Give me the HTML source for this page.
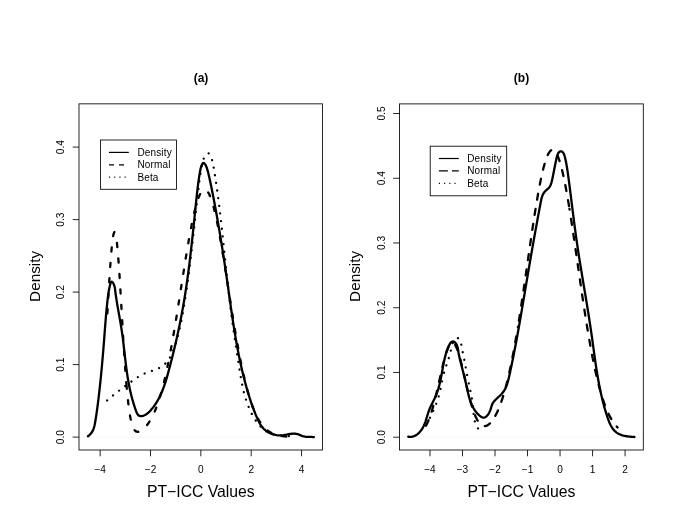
<!DOCTYPE html>
<html><head><meta charset="utf-8"><style>
html,body{margin:0;padding:0;background:#fff;}
svg{display:block;font-family:"Liberation Sans",sans-serif;will-change:transform;}
text{fill:#000;}
</style></head><body>
<svg width="685" height="529" viewBox="0 0 685 529">
<rect width="685" height="529" fill="#fff"/>
<line x1="79" y1="437.1" x2="322.5" y2="437.1" stroke="#f7f7f7" stroke-width="1"/>
<rect x="79" y="103.85" width="243.5" height="346.15" fill="none" stroke="#000" stroke-width="0.85"/>
<line x1="100.15" y1="450" x2="100.15" y2="456.3" stroke="#000" stroke-width="0.85"/>
<text x="100.15" y="472.5" font-size="10.1" text-anchor="middle" font-weight="normal">&#8722;4</text>
<line x1="150.5" y1="450" x2="150.5" y2="456.3" stroke="#000" stroke-width="0.85"/>
<text x="150.5" y="472.5" font-size="10.1" text-anchor="middle" font-weight="normal">&#8722;2</text>
<line x1="200.85" y1="450" x2="200.85" y2="456.3" stroke="#000" stroke-width="0.85"/>
<text x="200.85" y="472.5" font-size="10.1" text-anchor="middle" font-weight="normal">0</text>
<line x1="251.2" y1="450" x2="251.2" y2="456.3" stroke="#000" stroke-width="0.85"/>
<text x="251.2" y="472.5" font-size="10.1" text-anchor="middle" font-weight="normal">2</text>
<line x1="301.55" y1="450" x2="301.55" y2="456.3" stroke="#000" stroke-width="0.85"/>
<text x="301.55" y="472.5" font-size="10.1" text-anchor="middle" font-weight="normal">4</text>
<line x1="79" y1="437.1" x2="72.7" y2="437.1" stroke="#000" stroke-width="0.85"/>
<text transform="translate(64.4 437.1) rotate(-90) scale(1 0.98)" font-size="10.2" text-anchor="middle" font-weight="normal">0.0</text>
<line x1="79" y1="364.6" x2="72.7" y2="364.6" stroke="#000" stroke-width="0.85"/>
<text transform="translate(64.4 364.6) rotate(-90) scale(1 0.98)" font-size="10.2" text-anchor="middle" font-weight="normal">0.1</text>
<line x1="79" y1="292.1" x2="72.7" y2="292.1" stroke="#000" stroke-width="0.85"/>
<text transform="translate(64.4 292.1) rotate(-90) scale(1 0.98)" font-size="10.2" text-anchor="middle" font-weight="normal">0.2</text>
<line x1="79" y1="219.6" x2="72.7" y2="219.6" stroke="#000" stroke-width="0.85"/>
<text transform="translate(64.4 219.6) rotate(-90) scale(1 0.98)" font-size="10.2" text-anchor="middle" font-weight="normal">0.3</text>
<line x1="79" y1="147.1" x2="72.7" y2="147.1" stroke="#000" stroke-width="0.85"/>
<text transform="translate(64.4 147.1) rotate(-90) scale(1 0.98)" font-size="10.2" text-anchor="middle" font-weight="normal">0.4</text>
<text transform="translate(39.5 276.4) rotate(-90) scale(1 0.97)" font-size="15.3" text-anchor="middle" font-weight="normal">Density</text>
<text x="200.85" y="497.3" font-size="15.75" text-anchor="middle" font-weight="normal">PT&#8722;ICC Values</text>
<text x="201" y="82.4" font-size="12" text-anchor="middle" font-weight="bold">(a)</text>
<rect x="100.5" y="140" width="76" height="49.3" fill="none" stroke="#000" stroke-width="0.85"/>
<line x1="109.0" y1="152.4" x2="128.8" y2="152.4" stroke="#000" stroke-width="1.2"/>
<text letter-spacing="0.15" x="137.4" y="155.9" font-size="10" text-anchor="start" font-weight="normal">Density</text>
<line x1="109.0" y1="164.8" x2="128.8" y2="164.8" stroke="#000" stroke-width="1.2" stroke-dasharray="5 5"/>
<text letter-spacing="0.15" x="137.4" y="168.3" font-size="10" text-anchor="start" font-weight="normal">Normal</text>
<line x1="109.0" y1="177.2" x2="128.8" y2="177.2" stroke="#000" stroke-width="1.2" stroke-dasharray="1.1 4.1"/>
<text letter-spacing="0.15" x="137.4" y="180.7" font-size="10" text-anchor="start" font-weight="normal">Beta</text>
<line x1="399.5" y1="437.2" x2="643.3" y2="437.2" stroke="#f7f7f7" stroke-width="1"/>
<rect x="399.5" y="103.9" width="243.8" height="346.1" fill="none" stroke="#000" stroke-width="0.85"/>
<line x1="429.97" y1="450" x2="429.97" y2="456.3" stroke="#000" stroke-width="0.85"/>
<text x="429.97" y="472.5" font-size="10.1" text-anchor="middle" font-weight="normal">&#8722;4</text>
<line x1="462.49" y1="450" x2="462.49" y2="456.3" stroke="#000" stroke-width="0.85"/>
<text x="462.49" y="472.5" font-size="10.1" text-anchor="middle" font-weight="normal">&#8722;3</text>
<line x1="495.01" y1="450" x2="495.01" y2="456.3" stroke="#000" stroke-width="0.85"/>
<text x="495.01" y="472.5" font-size="10.1" text-anchor="middle" font-weight="normal">&#8722;2</text>
<line x1="527.53" y1="450" x2="527.53" y2="456.3" stroke="#000" stroke-width="0.85"/>
<text x="527.53" y="472.5" font-size="10.1" text-anchor="middle" font-weight="normal">&#8722;1</text>
<line x1="560.05" y1="450" x2="560.05" y2="456.3" stroke="#000" stroke-width="0.85"/>
<text x="560.05" y="472.5" font-size="10.1" text-anchor="middle" font-weight="normal">0</text>
<line x1="592.57" y1="450" x2="592.57" y2="456.3" stroke="#000" stroke-width="0.85"/>
<text x="592.57" y="472.5" font-size="10.1" text-anchor="middle" font-weight="normal">1</text>
<line x1="625.09" y1="450" x2="625.09" y2="456.3" stroke="#000" stroke-width="0.85"/>
<text x="625.09" y="472.5" font-size="10.1" text-anchor="middle" font-weight="normal">2</text>
<line x1="399.5" y1="437.2" x2="393.2" y2="437.2" stroke="#000" stroke-width="0.85"/>
<text transform="translate(385.1 437.2) rotate(-90) scale(1 0.98)" font-size="10.2" text-anchor="middle" font-weight="normal">0.0</text>
<line x1="399.5" y1="372.46" x2="393.2" y2="372.46" stroke="#000" stroke-width="0.85"/>
<text transform="translate(385.1 372.46) rotate(-90) scale(1 0.98)" font-size="10.2" text-anchor="middle" font-weight="normal">0.1</text>
<line x1="399.5" y1="307.72" x2="393.2" y2="307.72" stroke="#000" stroke-width="0.85"/>
<text transform="translate(385.1 307.72) rotate(-90) scale(1 0.98)" font-size="10.2" text-anchor="middle" font-weight="normal">0.2</text>
<line x1="399.5" y1="242.98" x2="393.2" y2="242.98" stroke="#000" stroke-width="0.85"/>
<text transform="translate(385.1 242.98) rotate(-90) scale(1 0.98)" font-size="10.2" text-anchor="middle" font-weight="normal">0.3</text>
<line x1="399.5" y1="178.24" x2="393.2" y2="178.24" stroke="#000" stroke-width="0.85"/>
<text transform="translate(385.1 178.24) rotate(-90) scale(1 0.98)" font-size="10.2" text-anchor="middle" font-weight="normal">0.4</text>
<line x1="399.5" y1="113.5" x2="393.2" y2="113.5" stroke="#000" stroke-width="0.85"/>
<text transform="translate(385.1 113.5) rotate(-90) scale(1 0.98)" font-size="10.2" text-anchor="middle" font-weight="normal">0.5</text>
<text transform="translate(360.4 276.4) rotate(-90) scale(1 0.97)" font-size="15.3" text-anchor="middle" font-weight="normal">Density</text>
<text x="521.4" y="497.3" font-size="15.75" text-anchor="middle" font-weight="normal">PT&#8722;ICC Values</text>
<text x="521.5" y="82.4" font-size="12" text-anchor="middle" font-weight="bold">(b)</text>
<rect x="430.2" y="146.2" width="76.5" height="49.6" fill="none" stroke="#000" stroke-width="0.85"/>
<line x1="438.9" y1="158.5" x2="458.8" y2="158.5" stroke="#000" stroke-width="1.2"/>
<text letter-spacing="0.15" x="467.2" y="162" font-size="10" text-anchor="start" font-weight="normal">Density</text>
<line x1="438.9" y1="170.9" x2="458.8" y2="170.9" stroke="#000" stroke-width="1.2" stroke-dasharray="9 4"/>
<text letter-spacing="0.15" x="467.2" y="174.4" font-size="10" text-anchor="start" font-weight="normal">Normal</text>
<line x1="438.9" y1="183.3" x2="458.8" y2="183.3" stroke="#000" stroke-width="1.2" stroke-dasharray="1.1 4.1"/>
<text letter-spacing="0.15" x="467.2" y="186.8" font-size="10" text-anchor="start" font-weight="normal">Beta</text>
<path d="M107.1 317.95 L107.56 310 L108.02 302.07 L108.48 294.24 L108.93 286.56 L109.39 279.13 L109.85 272 L110.31 265.26 L110.77 258.97 L111.23 253.21 L111.68 248.04 L112.14 243.51 L112.6 239.69 L113.06 236.61 L113.52 234.32 L113.98 232.84 L114.43 232.19 L114.89 232.37 L115.35 233.39 L115.81 235.23 L116.27 237.87 L116.73 241.27 L117.18 245.41 L117.64 250.22 L118.1 255.65 L118.56 261.64 L119.02 268.12 L119.48 275.02 L119.94 282.27 L120.39 289.79 L120.85 297.52 L121.31 305.37 L121.77 313.28 L122.23 321.18 L122.69 329.01 L123.14 336.71 L123.6 344.23 L124.06 351.53 L124.52 358.55 L124.98 365.28 L125.44 371.68 L125.89 377.73 L126.35 383.41" fill="none" stroke="#000" stroke-width="2.3" stroke-linecap="round" stroke-dasharray="4.2 11.3" stroke-dashoffset="10.94"/>
<path d="M126.35 383.41 L126.81 388.73 L127.27 393.66 L127.73 398.22 L128.19 402.4 L128.64 406.22 L129.1 409.69 L129.56 412.82 L130.02 415.63 L130.48 418.14 L130.94 420.36 L131.39 422.31 L131.85 424.02 L132.31 425.5 L132.77 426.78 L133.23 427.87 L133.69 428.79 L134.15 429.55 L134.6 430.18 L135.06 430.68 L135.52 431.08 L135.98 431.37 L136.44 431.59 L136.9 431.72 L137.35 431.79 L137.81 431.8 L138.27 431.76 L138.73 431.66 L139.19 431.53 L139.65 431.36 L140.1 431.16 L140.56 430.92 L141.02 430.66 L141.48 430.37 L141.94 430.05 L142.4 429.71 L142.85 429.35 L143.31 428.96 L143.77 428.56 L144.23 428.13 L144.69 427.68 L145.15 427.2 L145.61 426.71 L146.06 426.19 L146.52 425.65 L146.98 425.09 L147.44 424.5 L147.9 423.89 L148.36 423.25 L148.81 422.59 L149.27 421.9 L149.73 421.18 L150.19 420.44 L150.65 419.67 L151.11 418.87 L151.56 418.04 L152.02 417.18 L152.48 416.29 L152.94 415.37 L153.4 414.42 L153.86 413.43 L154.31 412.41 L154.77 411.36 L155.23 410.27 L155.69 409.14 L156.15 407.98 L156.61 406.79 L157.07 405.55 L157.52 404.28 L157.98 402.97 L158.44 401.62 L158.9 400.24 L159.36 398.81 L159.82 397.34 L160.27 395.84 L160.73 394.29 L161.19 392.7 L161.65 391.07 L162.11 389.4 L162.57 387.68 L163.02 385.93 L163.48 384.13 L163.94 382.29 L164.4 380.41 L164.86 378.48 L165.32 376.51 L165.77 374.5 L166.23 372.45 L166.69 370.36 L167.15 368.23 L167.61 366.05 L168.07 363.84 L168.53 361.58 L168.98 359.29" fill="none" stroke="#000" stroke-width="2.3" stroke-linecap="round" stroke-dasharray="4.2 11.3" stroke-dashoffset="14.19"/>
<path d="M168.98 359.29 L169.44 356.95 L169.9 354.58 L170.36 352.17 L170.82 349.72 L171.28 347.23 L171.73 344.72 L172.19 342.16 L172.65 339.57 L173.11 336.96 L173.57 334.31 L174.03 331.63 L174.48 328.92 L174.94 326.18 L175.4 323.42 L175.86 320.63 L176.32 317.83 L176.78 315 L177.23 312.15 L177.69 309.28 L178.15 306.4 L178.61 303.51 L179.07 300.6 L179.53 297.68 L179.98 294.76 L180.44 291.83 L180.9 288.89 L181.36 285.96 L181.82 283.02 L182.28 280.09 L182.74 277.16 L183.19 274.24 L183.65 271.33 L184.11 268.44 L184.57 265.56 L185.03 262.69 L185.49 259.85 L185.94 257.03 L186.4 254.23 L186.86 251.46 L187.32 248.72 L187.78 246.02 L188.24 243.35 L188.69 240.72 L189.15 238.12 L189.61 235.57 L190.07 233.07 L190.53 230.61 L190.99 228.21 L191.44 225.85 L191.9 223.56 L192.36 221.32 L192.82 219.14 L193.28 217.02 L193.74 214.96 L194.2 212.98 L194.65 211.06 L195.11 209.21 L195.57 207.44 L196.03 205.74 L196.49 204.11 L196.95 202.57 L197.4 201.1 L197.86 199.72 L198.32 198.42 L198.78 197.2 L199.24 196.07 L199.7 195.03 L200.15 194.08 L200.61 193.21 L201.07 192.44 L201.53 191.76 L201.99 191.16 L202.45 190.67 L202.9 190.26 L203.36 189.95 L203.82 189.74 L204.28 189.62 L204.74 189.59 L205.2 189.66 L205.66 189.82 L206.11 190.08 L206.57 190.43 L207.03 190.87 L207.49 191.41 L207.95 192.04 L208.41 192.76 L208.86 193.58 L209.32 194.48 L209.78 195.47 L210.24 196.55 L210.7 197.72 L211.16 198.97 L211.61 200.31 L212.07 201.73 L212.53 203.23 L212.99 204.81 L213.45 206.47 L213.91 208.2 L214.36 210.01 L214.82 211.88 L215.28 213.83 L215.74 215.85 L216.2 217.93 L216.66 220.08 L217.12 222.28 L217.57 224.55 L218.03 226.87 L218.49 229.25 L218.95 231.68 L219.41 234.15 L219.87 236.68 L220.32 239.25 L220.78 241.86 L221.24 244.5 L221.7 247.19 L222.16 249.91 L222.62 252.66 L223.07 255.44 L223.53 258.25 L223.99 261.08 L224.45 263.94 L224.91 266.81 L225.37 269.7 L225.82 272.6 L226.28 275.51 L226.74 278.43 L227.2 281.36 L227.66 284.3 L228.12 287.23 L228.57 290.17 L229.03 293.1 L229.49 296.03 L229.95 298.95 L230.41 301.86 L230.87 304.77 L231.33 307.66 L231.78 310.53 L232.24 313.39 L232.7 316.23 L233.16 319.05 L233.62 321.85 L234.08 324.62 L234.53 327.37 L234.99 330.1 L235.45 332.79 L235.91 335.46 L236.37 338.1 L236.83 340.7 L237.28 343.28 L237.74 345.81 L238.2 348.32 L238.66 350.79 L239.12 353.22 L239.58 355.61 L240.03 357.97 L240.49 360.29 L240.95 362.57 L241.41 364.81 L241.87 367 L242.33 369.16 L242.79 371.28 L243.24 373.35 L243.7 375.38 L244.16 377.37 L244.62 379.32 L245.08 381.23 L245.54 383.09 L245.99 384.92 L246.45 386.7 L246.91 388.43 L247.37 390.13 L247.83 391.78 L248.29 393.4 L248.74 394.97 L249.2 396.5 L249.66 397.99 L250.12 399.44 L250.58 400.85 L251.04 402.22 L251.49 403.55 L251.95 404.84 L252.41 406.09 L252.87 407.31 L253.33 408.49 L253.79 409.64 L254.25 410.75 L254.7 411.82 L255.16 412.86 L255.62 413.86 L256.08 414.84 L256.54 415.77 L257 416.68 L257.45 417.56 L257.91 418.41 L258.37 419.22 L258.83 420.01 L259.29 420.77 L259.75 421.5 L260.2 422.2 L260.66 422.88 L261.12 423.53 L261.58 424.16 L262.04 424.76 L262.5 425.34 L262.95 425.9 L263.41 426.43 L263.87 426.94 L264.33 427.44 L264.79 427.91 L265.25 428.36 L265.71 428.79 L266.16 429.21 L266.62 429.6 L267.08 429.98 L267.54 430.34 L268 430.69 L268.46 431.02 L268.91 431.34 L269.37 431.64 L269.83 431.93 L270.29 432.2 L270.75 432.47 L271.21 432.71 L271.66 432.95 L272.12 433.18 L272.58 433.39 L273.04 433.6 L273.5 433.79 L273.96 433.98 L274.41 434.16 L274.87 434.32 L275.33 434.48 L275.79 434.63 L276.25 434.77 L276.71 434.91 L277.16 435.04 L277.62 435.16 L278.08 435.27 L278.54 435.38 L279 435.49 L279.46 435.58 L279.92 435.68 L280.37 435.76 L280.83 435.84 L281.29 435.92 L281.75 436 L282.21 436.06 L282.67 436.13 L283.12 436.19 L283.58 436.25 L284.04 436.3 L284.5 436.35 L284.96 436.4 L285.42 436.45 L285.87 436.49 L286.33 436.53 L286.79 436.57 L287.25 436.6 L287.71 436.64 L288.17 436.67 L288.62 436.7 L289.08 436.72 L289.54 436.75 L290 436.77" fill="none" stroke="#000" stroke-width="2.3" stroke-linecap="round" stroke-dasharray="4.2 11.3" stroke-dashoffset="6.36"/>
<path d="M107.16 400.43 L108.05 399.66 L108.94 398.88 L109.85 398.11 L110.76 397.34 L111.68 396.57 L112.61 395.81 L113.54 395.05 L114.48 394.29 L115.42 393.53 L116.37 392.78 L117.33 392.03 L118.28 391.28 L119.25 390.53 L120.21 389.79 L121.18 389.05 L122.15 388.32 L123.12 387.59 L124.09 386.86 L125.06 386.14 L126.04 385.42 L127.01 384.7 L127.98 383.99 L128.95 383.29 L129.92 382.59 L130.89 381.89 L131.85 381.2 L132.82 380.51 L133.78 379.83 L134.74 379.16 L135.71 378.49 L136.68 377.85 L137.67 377.21 L138.67 376.59 L139.68 375.99 L140.72 375.41 L141.77 374.85 L142.85 374.32 L143.95 373.81 L145.08 373.33 L146.24 372.87 L147.42 372.44 L148.62 372.02 L149.83 371.62 L151.04 371.21 L152.26 370.81 L153.46 370.4 L154.66 369.97 L155.84 369.53 L157 369.06 L158.12 368.57 L159.21 368.03 L160.27 367.46 L161.28 366.85 L162.24 366.19 L163.17 365.49 L164.05 364.75 L164.9 363.97 L165.7 363.15 L166.48 362.31 L167.21 361.42 L167.92 360.51 L168.59 359.57 L169.24 358.61 L169.85 357.61 L170.44 356.59 L171 355.56 L171.53 354.5 L172.04 353.42 L172.53 352.32 L173 351.21 L173.45 350.09 L173.89 348.95 L174.3 347.81 L174.7 346.65 L175.09 345.49 L175.47 344.33 L175.83 343.16 L176.18 341.99 L176.53 340.82 L176.87 339.65 L177.2 338.48 L177.52 337.31 L177.83 336.13 L178.14 334.96 L178.44 333.79 L178.73 332.62 L179.01 331.45 L179.29 330.27 L179.57 329.1 L179.83 327.93 L180.09 326.76 L180.35 325.58 L180.6 324.41 L180.85 323.23 L181.09 322.06 L181.32 320.88 L181.55 319.7 L181.78 318.53 L182 317.35 L182.22 316.17 L182.44 314.99 L182.65 313.82 L182.86 312.64 L183.07 311.46 L183.28 310.27 L183.48 309.09 L183.68 307.91 L183.88 306.73 L184.08 305.54 L184.27 304.36 L184.46 303.18 L184.66 301.99 L184.85 300.8 L185.03 299.62 L185.22 298.43 L185.4 297.24 L185.59 296.05 L185.77 294.86 L185.95 293.67" fill="none" stroke="#000" stroke-width="2.3" stroke-linecap="round" stroke-dasharray="0.01 7.7" stroke-dashoffset="0"/>
<path d="M185.95 293.67 L186.13 292.48 L186.31 291.29 L186.48 290.1 L186.66 288.91 L186.83 287.72 L187 286.53 L187.17 285.33 L187.34 284.14 L187.5 282.95 L187.67 281.75 L187.83 280.56 L188 279.36 L188.16 278.17 L188.32 276.97 L188.48 275.77 L188.64 274.58 L188.8 273.38 L188.95 272.19 L189.11 270.99 L189.26 269.79 L189.41 268.59 L189.56 267.4 L189.72 266.2 L189.86 265 L190.01 263.8 L190.16 262.6 L190.31 261.4 L190.45 260.2 L190.6 259.01 L190.74 257.81 L190.89 256.61 L191.03 255.41 L191.17 254.21 L191.31 253.01 L191.45 251.81 L191.59 250.61 L191.73 249.41 L191.87 248.21 L192.01 247.01 L192.15 245.81 L192.28 244.61 L192.42 243.42 L192.55 242.22 L192.69 241.02 L192.82 239.82 L192.96 238.62 L193.09 237.42 L193.23 236.22 L193.36 235.02 L193.49 233.83 L193.62 232.63 L193.75 231.43 L193.89 230.23 L194.02 229.04 L194.15 227.84 L194.28 226.64 L194.41 225.45 L194.54 224.25 L194.67 223.05 L194.8 221.86 L194.93 220.66 L195.06 219.47 L195.19 218.27 L195.32 217.08 L195.45 215.89 L195.58 214.69 L195.71 213.5 L195.84 212.31 L195.97 211.12 L196.11 209.92 L196.24 208.73 L196.37 207.54 L196.5 206.35 L196.63 205.16 L196.76 203.98 L196.89 202.79 L197.03 201.6 L197.16 200.41 L197.29 199.23 L197.42 198.04 L197.56 196.85 L197.69 195.67 L197.83 194.49 L197.96 193.3 L198.1 192.12 L198.23 190.94 L198.37 189.76 L198.51 188.58 L198.64 187.4 L198.78 186.22 L198.92 185.04 L199.06 183.86 L199.21 182.68 L199.35 181.5 L199.5 180.32 L199.65 179.13 L199.81 177.94 L199.98 176.75 L200.15 175.54 L200.33 174.34 L200.52 173.12 L200.71 171.9 L200.92 170.67 L201.14 169.43 L201.36 168.17 L201.6 166.91 L201.86 165.63 L202.13 164.35 L202.41 163.06 L202.72 161.78 L203.07 160.53 L203.46 159.32 L203.89 158.17 L204.38 157.1 L204.93 156.11 L205.55 155.23 L206.24 154.46 L207.02 153.83 L207.86 153.41 L208.67 153.37 L209.38 153.86 L209.99 154.72 L210.53 155.77 L211.01 156.85 L211.43 157.95 L211.82 159.08 L212.16 160.22 L212.46 161.38 L212.74 162.55 L212.99 163.72 L213.22 164.91 L213.43 166.1 L213.64 167.3 L213.84 168.49 L214.03 169.69 L214.23 170.89 L214.43 172.08 L214.62 173.28 L214.81 174.48 L215 175.67 L215.18 176.87 L215.37 178.07 L215.55 179.26 L215.73 180.46 L215.91 181.66 L216.09 182.85 L216.27 184.05 L216.44 185.24 L216.61 186.44 L216.78 187.64 L216.95 188.83 L217.12 190.03 L217.29 191.23 L217.45 192.42 L217.62 193.62 L217.78 194.82 L217.94 196.01 L218.1 197.21 L218.25 198.41 L218.41 199.6 L218.56 200.8 L218.72 202 L218.87 203.19 L219.02 204.39 L219.17 205.59 L219.32 206.78 L219.47 207.98 L219.61 209.17 L219.76 210.37 L219.9 211.57 L220.05 212.76 L220.19 213.96 L220.33 215.16 L220.47 216.35 L220.61 217.55 L220.75 218.75 L220.89 219.94 L221.02 221.14 L221.16 222.33 L221.29 223.53 L221.43 224.73 L221.56 225.92 L221.69 227.12 L221.83 228.32 L221.96 229.51 L222.09 230.71 L222.22 231.91 L222.35 233.1 L222.48 234.3 L222.61 235.49 L222.73 236.69 L222.86 237.89 L222.99 239.08 L223.12 240.28 L223.24 241.47 L223.37 242.67 L223.49 243.87 L223.62 245.06 L223.74 246.26 L223.87 247.45 L223.99 248.65 L224.12 249.85 L224.24 251.04 L224.37 252.24 L224.49 253.43 L224.62 254.63 L224.74 255.83 L224.87 257.02 L224.99 258.22 L225.11 259.41 L225.24 260.61 L225.36 261.8 L225.49 263 L225.61 264.2 L225.74 265.39 L225.86 266.59 L225.99 267.78 L226.11 268.98 L226.24 270.17 L226.37 271.37 L226.49 272.57 L226.62 273.76 L226.75 274.96 L226.87 276.15 L227 277.35 L227.13 278.54 L227.26 279.74 L227.39 280.93 L227.52 282.13 L227.65 283.32 L227.78 284.52 L227.92 285.71 L228.05 286.91" fill="none" stroke="#000" stroke-width="2.3" stroke-linecap="round" stroke-dasharray="0.01 7.7" stroke-dashoffset="2.53"/>
<path d="M228.05 286.91 L228.18 288.1 L228.32 289.3 L228.45 290.49 L228.59 291.69 L228.73 292.88 L228.87 294.08 L229 295.27 L229.14 296.47 L229.28 297.66 L229.43 298.86 L229.57 300.05 L229.71 301.25 L229.86 302.44 L230 303.63 L230.15 304.83 L230.3 306.02 L230.45 307.22 L230.6 308.41 L230.75 309.61 L230.9 310.8 L231.06 311.99 L231.21 313.19 L231.37 314.38 L231.53 315.58 L231.69 316.77 L231.85 317.96 L232.01 319.16 L232.17 320.35 L232.33 321.55 L232.5 322.74 L232.66 323.93 L232.83 325.13 L233 326.32 L233.16 327.51 L233.33 328.71 L233.5 329.9 L233.67 331.09 L233.85 332.29 L234.02 333.48 L234.19 334.67 L234.37 335.87 L234.54 337.06 L234.72 338.25 L234.89 339.45 L235.07 340.64 L235.25 341.83 L235.43 343.02 L235.6 344.22 L235.78 345.41 L235.96 346.6 L236.14 347.8 L236.33 348.99 L236.51 350.18 L236.69 351.37 L236.87 352.56 L237.05 353.76 L237.24 354.95 L237.42 356.14 L237.6 357.33 L237.79 358.53 L237.97 359.72 L238.16 360.91 L238.34 362.1 L238.53 363.29 L238.71 364.48 L238.9 365.68 L239.09 366.87 L239.27 368.06 L239.46 369.25 L239.65 370.44 L239.84 371.63 L240.03 372.82 L240.23 374.01 L240.42 375.2 L240.63 376.38 L240.83 377.57 L241.04 378.75 L241.26 379.94 L241.47 381.12 L241.7 382.3 L241.93 383.48 L242.17 384.65 L242.41 385.83 L242.66 387 L242.92 388.17 L243.19 389.34 L243.47 390.5 L243.75 391.67 L244.05 392.83 L244.35 393.98 L244.67 395.14 L244.99 396.29 L245.33 397.44 L245.68 398.59 L246.04 399.73 L246.41 400.87 L246.8 402 L247.19 403.13 L247.61 404.26 L248.03 405.38 L248.47 406.5 L248.93 407.62 L249.4 408.73 L249.89 409.83 L250.39 410.93 L250.91 412.03 L251.45 413.12 L252.01 414.21 L252.58 415.29 L253.17 416.36 L253.78 417.42 L254.41 418.47 L255.07 419.51 L255.74 420.52 L256.43 421.53 L257.15 422.51 L257.88 423.46 L258.64 424.4 L259.43 425.31 L260.23 426.19 L261.06 427.04 L261.92 427.86 L262.8 428.65 L263.71 429.4 L264.65 430.12 L265.61 430.79 L266.6 431.43 L267.61 432.02 L268.66 432.57 L269.73 433.07 L270.84 433.52 L271.97 433.93 L273.13 434.29 L274.32 434.6 L275.52 434.87 L276.73 435.11 L277.96 435.31 L279.19 435.48 L280.43 435.63 L281.66 435.75 L282.89 435.85 L284.11 435.93 L285.32 436 L286.51 436.06 L287.68 436.11 L288.83 436.16 L289.95 436.2" fill="none" stroke="#000" stroke-width="2.3" stroke-linecap="round" stroke-dasharray="0.01 7.7" stroke-dashoffset="1.41"/>
<path d="M87.99 436.23 L88.95 435.5 L89.82 434.72 L90.6 433.9 L91.29 433.03 L91.91 432.13 L92.46 431.19 L92.95 430.21 L93.38 429.21 L93.75 428.18 L94.08 427.12 L94.38 426.05 L94.63 424.97 L94.86 423.87 L95.07 422.76 L95.27 421.64 L95.45 420.53 L95.63 419.41 L95.81 418.3 L95.98 417.19 L96.15 416.07 L96.32 414.96 L96.48 413.85 L96.64 412.74 L96.8 411.64 L96.96 410.53 L97.11 409.42 L97.26 408.31 L97.41 407.21 L97.56 406.1 L97.7 405 L97.84 403.89 L97.98 402.79 L98.12 401.68 L98.26 400.58 L98.39 399.47 L98.53 398.37 L98.66 397.26 L98.79 396.15 L98.92 395.05 L99.05 393.94 L99.17 392.83 L99.3 391.73 L99.43 390.62 L99.55 389.51 L99.67 388.4 L99.79 387.29 L99.91 386.18 L100.03 385.07 L100.15 383.96 L100.27 382.85 L100.38 381.74 L100.5 380.63 L100.61 379.52 L100.72 378.4 L100.84 377.29 L100.95 376.18 L101.06 375.07 L101.17 373.95 L101.27 372.84 L101.38 371.73 L101.49 370.61 L101.59 369.5 L101.7 368.38 L101.8 367.27 L101.9 366.16 L102 365.04 L102.11 363.93 L102.21 362.81 L102.3 361.7 L102.4 360.58 L102.5 359.47 L102.6 358.36 L102.69 357.24 L102.79 356.13 L102.88 355.01 L102.98 353.9 L103.07 352.78 L103.16 351.67 L103.26 350.55 L103.35 349.44 L103.44 348.33 L103.53 347.21 L103.62 346.1 L103.7 344.98 L103.79 343.87 L103.88 342.76 L103.97 341.64 L104.05 340.53 L104.14 339.42 L104.22 338.31 L104.31 337.19 L104.39 336.08 L104.48 334.97 L104.56 333.86 L104.65 332.75 L104.73 331.64 L104.81 330.52 L104.9 329.41 L104.98 328.3 L105.07 327.19 L105.16 326.08 L105.24 324.97 L105.33 323.86 L105.42 322.75 L105.51 321.64 L105.6 320.52 L105.69 319.41 L105.78 318.3 L105.87 317.19 L105.97 316.08 L106.07 314.96 L106.17 313.85 L106.27 312.74 L106.37 311.63 L106.47 310.51 L106.58 309.4 L106.68 308.29 L106.79 307.17 L106.91 306.06 L107.02 304.94 L107.14 303.83 L107.26 302.71 L107.38 301.6 L107.5 300.48 L107.63 299.36 L107.76 298.25 L107.9 297.13 L108.04 296.01 L108.19 294.9 L108.35 293.79 L108.51 292.68 L108.69 291.57 L108.88 290.46 L109.09 289.36 L109.3 288.27 L109.54 287.17 L109.79 286.09 L110.05 285.01 L110.34 283.93 L110.65 282.87 L111.04 281.99 L111.66 281.71 L112.42 282.11 L113.12 282.98 L113.71 284.15 L114.19 285.41 L114.55 286.63 L114.8 287.78 L114.99 288.9 L115.13 289.99 L115.26 291.07 L115.4 292.16 L115.54 293.24 L115.69 294.33 L115.84 295.41 L116 296.5 L116.16 297.59 L116.33 298.68 L116.5 299.77 L116.67 300.86 L116.85 301.95 L117.03 303.05 L117.21 304.14 L117.4 305.24 L117.59 306.33 L117.78 307.43 L117.97 308.53 L118.16 309.63 L118.36 310.73 L118.55 311.83 L118.75 312.93 L118.95 314.03 L119.14 315.14 L119.34 316.24 L119.53 317.34 L119.73 318.45 L119.92 319.55 L120.12 320.66 L120.31 321.76 L120.5 322.87 L120.68 323.98 L120.87 325.09 L121.05 326.19 L121.23 327.3 L121.4 328.41 L121.57 329.52 L121.74 330.63 L121.9 331.74 L122.06 332.85 L122.22 333.96 L122.37 335.07 L122.52 336.18 L122.67 337.29 L122.81 338.4 L122.95 339.51 L123.09 340.62 L123.23 341.74 L123.36 342.85 L123.49 343.96 L123.62 345.07 L123.75 346.18 L123.88 347.29 L124.01 348.4 L124.14 349.51 L124.26 350.62 L124.39 351.73 L124.51 352.84 L124.64 353.94 L124.77 355.05 L124.89 356.16 L125.02 357.27 L125.15 358.37 L125.28 359.48 L125.41 360.58 L125.54 361.69 L125.67 362.79 L125.81 363.9 L125.94 365 L126.08 366.1 L126.23 367.21 L126.37 368.31 L126.52 369.41 L126.67 370.51 L126.82 371.61 L126.98 372.71 L127.14 373.81 L127.3 374.91 L127.47 376 L127.64 377.1 L127.82 378.2 L128 379.3 L128.19 380.39 L128.38 381.49 L128.57 382.58 L128.77 383.68 L128.98 384.77 L129.19 385.87 L129.41 386.96 L129.63 388.06 L129.86 389.15 L130.1 390.24 L130.34 391.34 L130.59 392.43 L130.85 393.52 L131.11 394.61 L131.38 395.7 L131.66 396.79 L131.95 397.88 L132.24 398.97 L132.54 400.06 L132.85 401.15 L133.17 402.24 L133.5 403.33 L133.84 404.42 L134.18 405.51 L134.54 406.6 L134.9 407.68 L135.28 408.77 L135.66 409.86 L136.05 410.95 L136.47 412.02 L136.92 413.04 L137.42 413.98 L138.01 414.8 L138.69 415.46 L139.49 415.92 L140.43 416.16 L141.52 416.15 L142.68 415.93 L143.86 415.54 L144.98 415.04 L146.01 414.47 L146.95 413.82 L147.83 413.13 L148.66 412.38 L149.45 411.61 L150.23 410.8 L150.98 409.97 L151.71 409.12 L152.43 408.26 L153.12 407.38 L153.79 406.48 L154.44 405.58 L155.08 404.67 L155.69 403.75 L156.29 402.82 L156.87 401.88 L157.44 400.93 L157.99 399.97 L158.52 399 L159.04 398.03 L159.54 397.04 L160.03 396.05 L160.5 395.06 L160.96 394.05 L161.41 393.04 L161.85 392.02 L162.27 391 L162.68 389.97 L163.08 388.93 L163.47 387.89 L163.86 386.84 L164.23 385.79 L164.59 384.74 L164.95 383.68 L165.29 382.61 L165.63 381.55 L165.96 380.48 L166.29 379.4 L166.61 378.33 L166.92 377.25 L167.23 376.17 L167.54 375.09 L167.84 374 L168.14 372.92 L168.43 371.83 L168.73 370.75 L169.02 369.66 L169.3 368.58 L169.59 367.49 L169.88 366.4 L170.16 365.32 L170.44 364.23 L170.73 363.14 L171 362.06 L171.28 360.97 L171.56 359.88 L171.83 358.8 L172.11 357.71 L172.38 356.62 L172.65 355.54 L172.92 354.45 L173.19 353.36 L173.45 352.28 L173.72 351.19 L173.98 350.1 L174.24 349.01 L174.5 347.93 L174.76 346.84 L175.01 345.75 L175.27 344.66 L175.52 343.57 L175.77 342.49 L176.02 341.4 L176.27 340.31 L176.52 339.22 L176.76 338.13 L177 337.04 L177.24 335.95 L177.48 334.86 L177.72 333.77 L177.96 332.68 L178.19 331.59 L178.43 330.5 L178.66 329.41 L178.89 328.32 L179.12 327.23 L179.34 326.13 L179.57 325.04 L179.79 323.95 L180.01 322.86 L180.23 321.77 L180.45 320.67 L180.66 319.58 L180.88 318.48 L181.09 317.39 L181.3 316.3 L181.51 315.2 L181.72 314.11 L181.92 313.01 L182.12 311.92 L182.33 310.82 L182.53 309.72 L182.72 308.63 L182.92 307.53 L183.11 306.43 L183.31 305.33 L183.5 304.23 L183.69 303.14 L183.87 302.04 L184.06 300.94 L184.24 299.84 L184.43 298.74 L184.61 297.64 L184.78 296.53 L184.96 295.43 L185.14 294.33 L185.31 293.23 L185.48 292.13 L185.65 291.02 L185.82 289.92 L185.99 288.82 L186.15 287.71 L186.32 286.61 L186.48 285.5 L186.64 284.4 L186.8 283.29 L186.96 282.19 L187.11 281.08 L187.27 279.97 L187.42 278.87 L187.58 277.76 L187.73 276.65 L187.88 275.55 L188.03 274.44 L188.17 273.33 L188.32 272.22 L188.46 271.12 L188.61 270.01 L188.75 268.9 L188.89 267.79 L189.03 266.68 L189.17 265.57 L189.31 264.46 L189.45 263.35 L189.59 262.24 L189.72 261.13 L189.86 260.02 L189.99 258.91 L190.12 257.8 L190.25 256.69 L190.38 255.58 L190.51 254.47 L190.64 253.36 L190.77 252.24 L190.9 251.13 L191.03 250.02 L191.15 248.91 L191.28 247.8 L191.4 246.69 L191.53 245.57 L191.65 244.46 L191.77 243.35 L191.89 242.24 L192.02 241.12 L192.14 240.01 L192.26 238.9 L192.38 237.79 L192.5 236.67 L192.61 235.56 L192.73 234.45 L192.85 233.34 L192.97 232.22 L193.09 231.11 L193.2 230 L193.32 228.89 L193.44 227.77 L193.55 226.66 L193.67 225.55 L193.78 224.44 L193.9 223.32 L194.01 222.21 L194.13 221.1 L194.24 219.99 L194.36 218.87 L194.47 217.76 L194.59 216.65 L194.7 215.54 L194.82 214.43 L194.93 213.31 L195.04 212.2 L195.16 211.09 L195.27 209.98 L195.39 208.87 L195.5 207.76 L195.62 206.64 L195.73 205.53 L195.85 204.42 L195.96 203.31 L196.08 202.2 L196.19 201.09 L196.31 199.98 L196.43 198.87 L196.54 197.76 L196.66 196.65 L196.78 195.54 L196.9 194.43 L197.02 193.32 L197.14 192.21 L197.27 191.11 L197.39 190 L197.52 188.89 L197.65 187.79 L197.79 186.68 L197.92 185.58 L198.06 184.47 L198.21 183.37 L198.35 182.27 L198.5 181.16 L198.66 180.06 L198.82 178.96 L198.98 177.86 L199.15 176.76 L199.32 175.67 L199.5 174.57 L199.68 173.48 L199.87 172.38 L200.07 171.29 L200.27 170.2 L200.5 169.1 L200.78 167.98 L201.11 166.85 L201.52 165.69 L202.01 164.52 L202.6 163.53 L203.28 163.02 L204.05 163.23 L204.83 163.99 L205.5 164.97 L206.06 166 L206.51 167.07 L206.9 168.16 L207.25 169.25 L207.57 170.34 L207.87 171.42 L208.15 172.5 L208.42 173.58 L208.67 174.66 L208.92 175.74 L209.16 176.83 L209.41 177.91 L209.64 178.99 L209.88 180.08 L210.12 181.16 L210.35 182.25 L210.58 183.34 L210.81 184.43 L211.04 185.52 L211.27 186.61 L211.49 187.71 L211.71 188.8 L211.94 189.89 L212.15 190.99 L212.37 192.09 L212.59 193.18 L212.81 194.28 L213.02 195.38 L213.23 196.48 L213.44 197.57 L213.66 198.67 L213.87 199.77 L214.07 200.87 L214.28 201.97 L214.49 203.07 L214.69 204.17 L214.9 205.27 L215.1 206.37 L215.31 207.47 L215.51 208.57 L215.71 209.67 L215.91 210.77 L216.11 211.87 L216.31 212.97 L216.51 214.07 L216.7 215.17 L216.9 216.27 L217.1 217.37 L217.29 218.47 L217.48 219.57 L217.68 220.67 L217.87 221.77 L218.06 222.87 L218.25 223.98 L218.44 225.08 L218.63 226.18 L218.82 227.28 L219.01 228.38 L219.19 229.48 L219.38 230.58 L219.57 231.68 L219.75 232.79 L219.93 233.89 L220.12 234.99 L220.3 236.09 L220.48 237.19 L220.66 238.29 L220.84 239.4 L221.02 240.5 L221.2 241.6 L221.38 242.7 L221.56 243.8 L221.73 244.91 L221.91 246.01 L222.09 247.11 L222.26 248.22 L222.44 249.32 L222.61 250.42 L222.78 251.52 L222.95 252.63 L223.13 253.73 L223.3 254.83 L223.47 255.94 L223.64 257.04 L223.81 258.14 L223.98 259.25 L224.14 260.35 L224.31 261.46 L224.48 262.56 L224.64 263.66 L224.81 264.77 L224.97 265.87 L225.14 266.98 L225.3 268.08 L225.47 269.19 L225.63 270.29 L225.79 271.4 L225.95 272.5 L226.12 273.61 L226.28 274.71 L226.44 275.82 L226.6 276.92 L226.76 278.03 L226.92 279.13 L227.07 280.24 L227.23 281.35 L227.39 282.45 L227.55 283.56 L227.7 284.67 L227.86 285.77 L228.01 286.88 L228.17 287.99 L228.33 289.09 L228.48 290.2 L228.64 291.31 L228.79 292.41 L228.95 293.52 L229.1 294.63 L229.26 295.73 L229.41 296.84 L229.57 297.95 L229.73 299.05 L229.88 300.16 L230.04 301.27 L230.19 302.37 L230.35 303.48 L230.51 304.59 L230.67 305.69 L230.82 306.8 L230.98 307.91 L231.14 309.01 L231.3 310.12 L231.46 311.22 L231.62 312.33 L231.78 313.44 L231.95 314.54 L232.11 315.65 L232.27 316.75 L232.44 317.86 L232.6 318.96 L232.77 320.07 L232.94 321.17 L233.11 322.28 L233.28 323.38 L233.45 324.49 L233.62 325.59 L233.79 326.69 L233.97 327.8 L234.14 328.9 L234.32 330 L234.5 331.1 L234.68 332.21 L234.86 333.31 L235.04 334.41 L235.23 335.51 L235.41 336.61 L235.6 337.71 L235.79 338.81 L235.98 339.91 L236.17 341.01 L236.36 342.11 L236.56 343.21 L236.76 344.31 L236.96 345.41 L237.16 346.51 L237.36 347.6 L237.57 348.7 L237.77 349.8 L237.98 350.89 L238.19 351.99 L238.41 353.09 L238.62 354.18 L238.84 355.27 L239.06 356.37 L239.28 357.46 L239.51 358.56 L239.74 359.65 L239.97 360.74 L240.2 361.83 L240.43 362.92 L240.67 364.01 L240.91 365.1 L241.15 366.19 L241.4 367.28 L241.65 368.37 L241.9 369.46 L242.15 370.54 L242.41 371.63 L242.67 372.72 L242.93 373.8 L243.19 374.89 L243.46 375.97 L243.73 377.05 L244.01 378.14 L244.29 379.22 L244.57 380.3 L244.85 381.38 L245.14 382.46 L245.43 383.54 L245.72 384.62 L246.02 385.7 L246.32 386.77 L246.62 387.85 L246.93 388.93 L247.24 390 L247.55 391.07 L247.87 392.15 L248.19 393.22 L248.52 394.29 L248.85 395.36 L249.18 396.43 L249.52 397.5 L249.86 398.57 L250.2 399.64 L250.55 400.7 L250.91 401.77 L251.27 402.83 L251.63 403.89 L252 404.95 L252.37 406.01 L252.75 407.06 L253.14 408.11 L253.53 409.16 L253.93 410.21 L254.33 411.25 L254.74 412.29 L255.16 413.33 L255.58 414.36 L256.01 415.39 L256.45 416.42 L256.89 417.44 L257.34 418.46 L257.8 419.47 L258.27 420.48 L258.76 421.48 L259.26 422.46 L259.79 423.42 L260.35 424.37 L260.93 425.3 L261.55 426.19 L262.21 427.07 L262.91 427.9 L263.65 428.71 L264.45 429.48 L265.29 430.21 L266.18 430.89 L267.12 431.54 L268.09 432.14 L269.1 432.69 L270.14 433.2 L271.2 433.66 L272.29 434.07 L273.39 434.43 L274.5 434.74 L275.63 434.99 L276.75 435.19 L277.88 435.33 L279.01 435.42 L280.12 435.45 L281.23 435.41 L282.32 435.32 L283.4 435.18 L284.47 435.01 L285.53 434.81 L286.6 434.6 L287.66 434.39 L288.73 434.18 L289.81 434 L290.89 433.84 L291.99 433.73 L293.1 433.67 L294.21 433.67 L295.32 433.74 L296.41 433.89 L297.5 434.13 L298.57 434.47 L299.62 434.9 L300.67 435.36 L301.72 435.81 L302.78 436.2 L303.85 436.49 L304.95 436.69 L306.06 436.8 L307.19 436.86 L308.31 436.88 L309.44 436.88 L310.57 436.9 L311.69 436.94 L312.8 437.04 L313.9 437.2" fill="none" stroke="#000" stroke-width="2.3" stroke-linecap="round" stroke-linejoin="round"/>
<path d="M425.5 426.6 L425.98 425.75 L426.46 424.84 L426.94 423.87 L427.43 422.85 L427.91 421.78 L428.39 420.65 L428.87 419.46 L429.35 418.21 L429.83 416.9 L430.31 415.53 L430.8 414.11 L431.28 412.62 L431.76 411.08 L432.24 409.47 L432.72 407.82 L433.2 406.1 L433.68 404.33 L434.17 402.51 L434.65 400.64 L435.13 398.73 L435.61 396.77 L436.09 394.77 L436.57 392.74 L437.05 390.67 L437.54 388.58 L438.02 386.47 L438.5 384.33 L438.98 382.19 L439.46 380.04 L439.94 377.89 L440.43 375.74 L440.91 373.61 L441.39 371.5 L441.87 369.41 L442.35 367.35 L442.83 365.33 L443.31 363.36 L443.8 361.44 L444.28 359.58 L444.76 357.79 L445.24 356.07 L445.72 354.43 L446.2 352.88 L446.68 351.42 L447.17 350.05 L447.65 348.79 L448.13 347.64 L448.61 346.6 L449.09 345.67 L449.57 344.87 L450.05 344.19 L450.54 343.64 L451.02 343.21 L451.5 342.92 L451.98 342.76 L452.46 342.73 L452.94 342.84 L453.42 343.08 L453.91 343.44 L454.39 343.94 L454.87 344.57 L455.35 345.32 L455.83 346.19 L456.31 347.17 L456.79 348.28 L457.28 349.49 L457.76 350.8 L458.24 352.21 L458.72 353.72 L459.2 355.31 L459.68 356.98 L460.16 358.73 L460.65 360.54 L461.13 362.42 L461.61 364.35 L462.09 366.32 L462.57 368.33 L463.05 370.38 L463.53 372.45 L464.02 374.54 L464.5 376.64 L464.98 378.75 L465.46 380.86 L465.94 382.96 L466.42 385.04" fill="none" stroke="#000" stroke-width="2.3" stroke-linecap="round" stroke-dasharray="6 9.3" stroke-dashoffset="14.31"/>
<path d="M466.42 385.04 L466.91 387.11 L467.39 389.16 L467.87 391.17 L468.35 393.15 L468.83 395.09 L469.31 396.99 L469.79 398.84 L470.28 400.65 L470.76 402.4 L471.24 404.09 L471.72 405.73 L472.2 407.3 L472.68 408.82 L473.16 410.27 L473.65 411.66 L474.13 412.98 L474.61 414.23 L475.09 415.42 L475.57 416.54 L476.05 417.59 L476.53 418.58 L477.02 419.5 L477.5 420.35 L477.98 421.14 L478.46 421.87 L478.94 422.53 L479.42 423.14 L479.9 423.68 L480.39 424.16 L480.87 424.58 L481.35 424.95 L481.83 425.26 L482.31 425.52 L482.79 425.73 L483.27 425.88 L483.76 425.98 L484.24 426.04 L484.72 426.05 L485.2 426.01 L485.68 425.92 L486.16 425.79 L486.64 425.62 L487.13 425.41 L487.61 425.15 L488.09 424.85 L488.57 424.52 L489.05 424.14 L489.53 423.72 L490.01 423.27 L490.5 422.78 L490.98 422.25 L491.46 421.68 L491.94 421.08 L492.42 420.44 L492.9 419.76 L493.38 419.04 L493.87 418.29 L494.35 417.5 L494.83 416.67 L495.31 415.81 L495.79 414.9 L496.27 413.96 L496.76 412.98 L497.24 411.96 L497.72 410.91 L498.2 409.81 L498.68 408.67 L499.16 407.49 L499.64 406.28 L500.13 405.02 L500.61 403.71 L501.09 402.37 L501.57 400.98 L502.05 399.55 L502.53 398.08 L503.01 396.56 L503.5 395 L503.98 393.39 L504.46 391.74 L504.94 390.04 L505.42 388.3 L505.9 386.51 L506.38 384.67 L506.87 382.78 L507.35 380.85 L507.83 378.87 L508.31 376.85 L508.79 374.77 L509.27 372.65 L509.75 370.48 L510.24 368.26 L510.72 366 L511.2 363.69 L511.68 361.33 L512.16 358.92 L512.64 356.47 L513.12 353.97 L513.61 351.43 L514.09 348.84 L514.57 346.21 L515.05 343.53 L515.53 340.81 L516.01 338.05 L516.49 335.24 L516.98 332.4 L517.46 329.51 L517.94 326.59" fill="none" stroke="#000" stroke-width="2.3" stroke-linecap="round" stroke-dasharray="6 9.3" stroke-dashoffset="14.44"/>
<path d="M517.94 326.59 L518.42 323.63 L518.9 320.64 L519.38 317.61 L519.86 314.54 L520.35 311.45 L520.83 308.32 L521.31 305.17 L521.79 301.99 L522.27 298.78 L522.75 295.55 L523.24 292.3 L523.72 289.02 L524.2 285.73 L524.68 282.43 L525.16 279.11 L525.64 275.78 L526.12 272.44 L526.61 269.09 L527.09 265.74 L527.57 262.39 L528.05 259.04 L528.53 255.69 L529.01 252.34 L529.49 249 L529.98 245.68 L530.46 242.37 L530.94 239.07 L531.42 235.79 L531.9 232.54 L532.38 229.31 L532.86 226.1 L533.35 222.93 L533.83 219.79 L534.31 216.68 L534.79 213.61 L535.27 210.59 L535.75 207.61 L536.23 204.67 L536.72 201.79 L537.2 198.95 L537.68 196.18 L538.16 193.46 L538.64 190.8 L539.12 188.2 L539.6 185.67 L540.09 183.21 L540.57 180.82 L541.05 178.5 L541.53 176.26 L542.01 174.1 L542.49 172.01 L542.97 170.01 L543.46 168.09 L543.94 166.26 L544.42 164.52 L544.9 162.87 L545.38 161.31 L545.86 159.85 L546.34 158.48 L546.83 157.21 L547.31 156.03 L547.79 154.96 L548.27 153.98 L548.75 153.11 L549.23 152.34 L549.72 151.68 L550.2 151.12 L550.68 150.66 L551.16 150.31 L551.64 150.06 L552.12 149.93 L552.6 149.89 L553.09 149.97 L553.57 150.15 L554.05 150.44 L554.53 150.83 L555.01 151.33 L555.49 151.93 L555.97 152.64 L556.46 153.45 L556.94 154.36 L557.42 155.37 L557.9 156.49 L558.38 157.7 L558.86 159.01 L559.34 160.42 L559.83 161.92 L560.31 163.52 L560.79 165.21 L561.27 166.98 L561.75 168.85 L562.23 170.8 L562.71 172.83 L563.2 174.95 L563.68 177.14 L564.16 179.42 L564.64 181.76 L565.12 184.18 L565.6 186.67 L566.08 189.23 L566.57 191.85 L567.05 194.53 L567.53 197.28 L568.01 200.08 L568.49 202.93 L568.97 205.84 L569.45 208.79" fill="none" stroke="#000" stroke-width="2.3" stroke-linecap="round" stroke-dasharray="6 9.3" stroke-dashoffset="9.36"/>
<path d="M569.45 208.79 L569.94 211.79 L570.42 214.83 L570.9 217.92 L571.38 221.04 L571.86 224.19 L572.34 227.38 L572.82 230.59 L573.31 233.83 L573.79 237.1 L574.27 240.38 L574.75 243.69 L575.23 247 L575.71 250.33 L576.19 253.67 L576.68 257.02 L577.16 260.37 L577.64 263.73 L578.12 267.08 L578.6 270.43 L579.08 273.77 L579.57 277.11 L580.05 280.44 L580.53 283.75 L581.01 287.05 L581.49 290.33 L581.97 293.6 L582.45 296.84 L582.94 300.06 L583.42 303.26 L583.9 306.43 L584.38 309.57 L584.86 312.69 L585.34 315.77 L585.82 318.82 L586.31 321.84 L586.79 324.82 L587.27 327.76 L587.75 330.67 L588.23 333.54 L588.71 336.37 L589.19 339.15 L589.68 341.9 L590.16 344.6 L590.64 347.26 L591.12 349.88 L591.6 352.45 L592.08 354.97 L592.56 357.45 L593.05 359.89 L593.53 362.28 L594.01 364.62 L594.49 366.91 L594.97 369.16 L595.45 371.35 L595.93 373.51 L596.42 375.61 L596.9 377.67 L597.38 379.68 L597.86 381.64 L598.34 383.55 L598.82 385.42 L599.3 387.24 L599.79 389.02 L600.27 390.75 L600.75 392.43 L601.23 394.07 L601.71 395.66 L602.19 397.21 L602.67 398.72 L603.16 400.18 L603.64 401.6 L604.12 402.98 L604.6 404.32 L605.08 405.62 L605.56 406.88 L606.05 408.09 L606.53 409.27 L607.01 410.41 L607.49 411.52 L607.97 412.59 L608.45 413.62 L608.93 414.62 L609.42 415.58 L609.9 416.51 L610.38 417.41 L610.86 418.27 L611.34 419.11 L611.82 419.91 L612.3 420.68 L612.79 421.43 L613.27 422.15 L613.75 422.84 L614.23 423.5 L614.71 424.14 L615.19 424.75 L615.67 425.34 L616.16 425.9 L616.64 426.44 L617.12 426.96 L617.6 427.46" fill="none" stroke="#000" stroke-width="2.3" stroke-linecap="round" stroke-dasharray="6 9.3" stroke-dashoffset="5.15"/>
<path d="M427.18 423.8 L427.37 423.37 L427.57 422.94 L427.77 422.52 L427.96 422.09 L428.16 421.66 L428.36 421.24 L428.56 420.81 L428.76 420.38 L428.96 419.96 L429.16 419.53 L429.36 419.11 L429.56 418.68 L429.76 418.26 L429.96 417.83 L430.16 417.41 L430.36 416.99 L430.56 416.56 L430.75 416.14 L430.95 415.71 L431.15 415.29 L431.35 414.87 L431.55 414.44 L431.74 414.02 L431.94 413.59 L432.14 413.17 L432.33 412.75 L432.52 412.32 L432.72 411.9 L432.91 411.47 L433.1 411.05 L433.29 410.62 L433.48 410.2 L433.67 409.77 L433.86 409.34 L434.04 408.92 L434.23 408.49 L434.41 408.06 L434.6 407.63 L434.78 407.21 L434.96 406.78 L435.14 406.35 L435.31 405.92 L435.49 405.49 L435.66 405.05 L435.83 404.62 L436 404.19 L436.17 403.76 L436.34 403.32 L436.5 402.89 L436.66 402.45 L436.82 402.01 L436.98 401.58 L437.14 401.14 L437.29 400.7 L437.44 400.26 L437.59 399.81 L437.74 399.37 L437.89 398.93 L438.03 398.48 L438.17 398.04 L438.31 397.59 L438.44 397.14 L438.57 396.69 L438.7 396.24 L438.83 395.79 L438.95 395.34 L439.07 394.89 L439.19 394.43 L439.31 393.97 L439.43 393.52 L439.54 393.06 L439.65 392.6 L439.76 392.14 L439.87 391.68 L439.97 391.22 L440.07 390.76 L440.18 390.3 L440.28 389.84 L440.38 389.37 L440.48 388.91 L440.57 388.45 L440.67 387.98 L440.77 387.52 L440.86 387.05 L440.95 386.59 L441.05 386.12 L441.14 385.66 L441.24 385.2 L441.33 384.73 L441.42 384.27 L441.51 383.8 L441.61 383.34 L441.7 382.88 L441.79 382.41 L441.89 381.95 L441.98 381.49 L442.07 381.03 L442.17 380.57 L442.27 380.1 L442.36 379.64 L442.46 379.19 L442.56 378.73 L442.66 378.27 L442.76 377.81 L442.87 377.36 L442.97 376.9" fill="none" stroke="#000" stroke-width="2.3" stroke-linecap="round" stroke-dasharray="0.01 7.7" stroke-dashoffset="1.12"/>
<path d="M442.97 376.9 L443.08 376.45 L443.19 376 L443.3 375.55 L443.41 375.1 L443.52 374.65 L443.64 374.2 L443.76 373.76 L443.88 373.31 L444 372.87 L444.13 372.43 L444.25 371.99 L444.38 371.55 L444.51 371.11 L444.65 370.67 L444.78 370.23 L444.91 369.8 L445.05 369.36 L445.19 368.92 L445.33 368.49 L445.47 368.06 L445.61 367.62 L445.76 367.19 L445.9 366.75 L446.04 366.32 L446.19 365.89 L446.33 365.45 L446.48 365.02 L446.63 364.58 L446.77 364.15 L446.92 363.71 L447.07 363.27 L447.22 362.84 L447.36 362.4 L447.51 361.96 L447.66 361.52 L447.8 361.08 L447.95 360.64 L448.09 360.19 L448.24 359.75 L448.38 359.3 L448.53 358.86 L448.67 358.41 L448.81 357.96 L448.95 357.5 L449.09 357.05 L449.23 356.59 L449.36 356.14 L449.5 355.68 L449.63 355.21 L449.76 354.75 L449.89 354.28 L450.02 353.81 L450.15 353.34 L450.27 352.86 L450.4 352.39 L450.52 351.91 L450.63 351.42 L450.75 350.94 L450.86 350.45 L450.97 349.96 L451.08 349.46 L451.19 348.97 L451.3 348.47 L451.41 347.98 L451.52 347.49 L451.63 347 L451.75 346.51 L451.87 346.03 L451.99 345.55 L452.12 345.08 L452.25 344.61 L452.39 344.16 L452.54 343.71 L452.7 343.26 L452.86 342.83 L453.04 342.41 L453.22 342.01 L453.42 341.61 L453.63 341.23 L453.84 340.86 L454.08 340.51 L454.32 340.17 L454.58 339.85 L454.86 339.54 L455.15 339.26 L455.46 338.99 L455.78 338.75 L456.12 338.53 L456.48 338.34 L456.84 338.2 L457.2 338.11 L457.55 338.08 L457.9 338.12 L458.24 338.22 L458.57 338.38 L458.88 338.6 L459.18 338.86 L459.44 339.16 L459.69 339.51 L459.91 339.88 L460.11 340.29 L460.29 340.73 L460.45 341.19 L460.6 341.67 L460.74 342.16 L460.86 342.67 L460.97 343.19 L461.08 343.71 L461.18 344.24 L461.28 344.77 L461.38 345.29 L461.48 345.8 L461.57 346.31 L461.67 346.82 L461.77 347.32 L461.86 347.81 L461.96 348.3 L462.05 348.79 L462.15 349.27 L462.24 349.74 L462.33 350.22 L462.43 350.69 L462.52 351.15 L462.61 351.62 L462.7 352.08 L462.8 352.54 L462.89 352.99 L462.98 353.45 L463.07 353.9 L463.16 354.35 L463.25 354.79 L463.34 355.24 L463.43 355.69 L463.52 356.13 L463.61 356.57 L463.7 357.02 L463.78 357.46 L463.87 357.9 L463.96 358.34 L464.05 358.79 L464.14 359.23 L464.22 359.67 L464.31 360.12 L464.4 360.56 L464.48 361.01 L464.57 361.46 L464.66 361.91 L464.74 362.36 L464.83 362.81 L464.92 363.26 L465 363.71 L465.09 364.17 L465.17 364.62 L465.26 365.08 L465.35 365.54 L465.43 365.99 L465.52 366.45 L465.6 366.91 L465.69 367.37 L465.77 367.83 L465.86 368.29 L465.95 368.75 L466.03 369.21 L466.12 369.67 L466.21 370.14 L466.29 370.6 L466.38 371.06 L466.47 371.53 L466.55 371.99 L466.64 372.45 L466.73 372.92 L466.82 373.38 L466.9 373.85 L466.99 374.31 L467.08 374.78 L467.17 375.24 L467.26 375.71 L467.35 376.17 L467.44 376.64 L467.53 377.1 L467.62 377.57 L467.71 378.04 L467.8 378.5 L467.89 378.96" fill="none" stroke="#000" stroke-width="2.3" stroke-linecap="round" stroke-dasharray="0.01 7.7" stroke-dashoffset="3.39"/>
<path d="M467.89 378.96 L467.98 379.43 L468.07 379.89 L468.16 380.36 L468.26 380.82 L468.35 381.28 L468.44 381.75 L468.54 382.21 L468.63 382.67 L468.73 383.13 L468.82 383.59 L468.92 384.05 L469.02 384.51 L469.11 384.97 L469.21 385.43 L469.31 385.89 L469.41 386.35 L469.51 386.8 L469.61 387.26 L469.71 387.72 L469.8 388.17 L469.9 388.63 L470 389.09 L470.1 389.54 L470.2 390 L470.3 390.45 L470.39 390.91 L470.49 391.36 L470.59 391.81 L470.68 392.27 L470.78 392.72 L470.87 393.18 L470.97 393.63 L471.06 394.09 L471.15 394.54 L471.24 395 L471.33 395.45 L471.42 395.91 L471.51 396.36 L471.59 396.82 L471.68 397.27 L471.76 397.73 L471.84 398.19 L471.92 398.64 L472 399.1 L472.08 399.56 L472.15 400.02 L472.23 400.47 L472.3 400.93 L472.37 401.39 L472.44 401.85 L472.5 402.32 L472.57 402.78 L472.63 403.24 L472.69 403.7 L472.74 404.17 L472.8 404.63 L472.85 405.1 L472.9 405.56 L472.95 406.03 L472.99 406.5 L473.03 406.97 L473.07 407.44 L473.11 407.91 L473.15 408.38 L473.18 408.85 L473.22 409.32 L473.25 409.79 L473.28 410.26 L473.32 410.74 L473.35 411.21 L473.39 411.68 L473.42 412.15 L473.46 412.62 L473.5 413.09 L473.54 413.56 L473.59 414.03 L473.63 414.5 L473.68 414.97 L473.73 415.44 L473.79 415.91 L473.84 416.37 L473.91 416.84 L473.97 417.3 L474.05 417.76 L474.12 418.22 L474.2 418.68 L474.29 419.14 L474.38 419.59 L474.48 420.05 L474.59 420.5 L474.7 420.95 L474.82 421.39 L474.95 421.84 L475.08 422.28 L475.22 422.72 L475.37 423.16 L475.53 423.6 L475.7 424.03 L475.88 424.46 L476.06 424.89 L476.26 425.32 L476.46 425.74 L476.68 426.16 L476.91 426.57 L477.14 426.98 L477.39 427.39 L477.65 427.8 L477.92 428.2 L478.21 428.6" fill="none" stroke="#000" stroke-width="2.3" stroke-linecap="round" stroke-dasharray="0.01 7.7" stroke-dashoffset="3.21"/>
<path d="M408.26 436.74 L409.32 436.86 L410.35 436.87 L411.35 436.8 L412.33 436.63 L413.27 436.39 L414.18 436.07 L415.06 435.67 L415.92 435.21 L416.73 434.69 L417.52 434.11 L418.28 433.48 L419 432.81 L419.68 432.09 L420.33 431.34 L420.95 430.56 L421.53 429.75 L422.07 428.93 L422.58 428.09 L423.05 427.23 L423.5 426.35 L423.92 425.47 L424.31 424.57 L424.69 423.65 L425.04 422.73 L425.38 421.81 L425.7 420.87 L426.01 419.93 L426.31 418.98 L426.6 418.03 L426.89 417.08 L427.18 416.12 L427.47 415.17 L427.76 414.22 L428.06 413.27 L428.36 412.33 L428.68 411.39 L429.01 410.46 L429.36 409.53 L429.73 408.62 L430.11 407.71 L430.51 406.82 L430.92 405.92 L431.35 405.04 L431.78 404.16 L432.22 403.28 L432.66 402.4 L433.1 401.52 L433.54 400.64 L433.97 399.77 L434.4 398.88 L434.82 398 L435.23 397.1 L435.63 396.21 L436.01 395.3 L436.38 394.39 L436.73 393.47 L437.07 392.54 L437.4 391.61 L437.71 390.68 L438.01 389.73 L438.31 388.79 L438.59 387.84 L438.85 386.89 L439.11 385.93 L439.36 384.97 L439.61 384.01 L439.84 383.04 L440.06 382.07 L440.28 381.1 L440.49 380.13 L440.7 379.16 L440.89 378.19 L441.09 377.22 L441.28 376.25 L441.46 375.28 L441.64 374.31 L441.81 373.34 L441.99 372.37 L442.16 371.41 L442.33 370.45 L442.5 369.49 L442.67 368.53 L442.84 367.57 L443.01 366.61 L443.18 365.66 L443.36 364.7 L443.54 363.75 L443.73 362.8 L443.93 361.84 L444.13 360.89 L444.34 359.94 L444.56 358.99 L444.79 358.03 L445.02 357.08 L445.28 356.12 L445.54 355.17 L445.81 354.21 L446.1 353.25 L446.41 352.3 L446.73 351.33 L447.07 350.37 L447.42 349.41 L447.79 348.44 L448.19 347.47 L448.6 346.5 L449.03 345.53 L449.49 344.58 L449.99 343.68 L450.52 342.89 L451.11 342.24 L451.76 341.76 L452.47 341.51 L453.25 341.52 L454.07 341.79 L454.86 342.31 L455.56 343.03 L456.18 343.91 L456.7 344.87 L457.12 345.85 L457.45 346.83 L457.7 347.81 L457.9 348.79 L458.07 349.76 L458.21 350.73 L458.35 351.7 L458.5 352.67 L458.67 353.63 L458.85 354.6 L459.06 355.56 L459.27 356.52 L459.49 357.48 L459.72 358.44 L459.96 359.39 L460.2 360.35 L460.44 361.31 L460.68 362.26 L460.92 363.22 L461.16 364.17 L461.4 365.13 L461.65 366.09 L461.89 367.04 L462.14 368 L462.38 368.95 L462.62 369.91 L462.87 370.86 L463.11 371.82 L463.35 372.78 L463.59 373.73 L463.83 374.69 L464.07 375.65 L464.31 376.61 L464.54 377.56 L464.78 378.52 L465.01 379.48 L465.24 380.44 L465.47 381.4 L465.7 382.37 L465.92 383.33 L466.14 384.29 L466.36 385.26 L466.57 386.22 L466.78 387.19 L466.99 388.15 L467.2 389.12 L467.42 390.09 L467.63 391.05 L467.84 392.01 L468.07 392.98 L468.29 393.94 L468.53 394.89 L468.77 395.85 L469.02 396.8 L469.29 397.75 L469.56 398.69 L469.85 399.62 L470.16 400.56 L470.48 401.48 L470.82 402.4 L471.17 403.32 L471.55 404.22 L471.95 405.12 L472.37 406.01 L472.81 406.89 L473.28 407.77 L473.78 408.63 L474.3 409.48 L474.85 410.32 L475.43 411.13 L476.03 411.93 L476.67 412.7 L477.33 413.46 L478.03 414.18 L478.75 414.87 L479.51 415.53 L480.29 416.16 L481.11 416.73 L481.94 417.2 L482.78 417.52 L483.61 417.63 L484.43 417.52 L485.23 417.21 L486 416.72 L486.73 416.08 L487.43 415.32 L488.09 414.46 L488.69 413.52 L489.24 412.54 L489.73 411.53 L490.15 410.53 L490.51 409.54 L490.82 408.57 L491.11 407.62 L491.4 406.68 L491.69 405.77 L492 404.89 L492.36 404.03 L492.78 403.21 L493.27 402.41 L493.83 401.64 L494.44 400.9 L495.1 400.17 L495.8 399.46 L496.53 398.76 L497.29 398.06 L498.05 397.38 L498.81 396.68 L499.58 395.99 L500.32 395.29 L501.04 394.57 L501.73 393.83 L502.38 393.08 L502.99 392.31 L503.56 391.51 L504.09 390.7 L504.59 389.87 L505.05 389.03 L505.49 388.16 L505.89 387.29 L506.27 386.4 L506.62 385.5 L506.95 384.59 L507.26 383.67 L507.55 382.74 L507.83 381.8 L508.09 380.85 L508.33 379.9 L508.57 378.95 L508.8 377.99 L509.02 377.02 L509.24 376.06 L509.45 375.09 L509.66 374.13 L509.88 373.16 L510.09 372.19 L510.3 371.23 L510.5 370.26 L510.71 369.29 L510.92 368.33 L511.12 367.36 L511.33 366.39 L511.53 365.42 L511.73 364.46 L511.93 363.49 L512.13 362.52 L512.33 361.55 L512.53 360.58 L512.73 359.62 L512.92 358.65 L513.12 357.68 L513.31 356.71 L513.51 355.74 L513.7 354.77 L513.89 353.8 L514.08 352.83 L514.27 351.87 L514.46 350.9 L514.65 349.93 L514.83 348.96 L515.02 347.99 L515.21 347.02 L515.39 346.05 L515.58 345.08 L515.76 344.11 L515.94 343.14 L516.12 342.17 L516.31 341.2 L516.49 340.23 L516.67 339.26 L516.85 338.29 L517.02 337.32 L517.2 336.34 L517.38 335.37 L517.56 334.4 L517.73 333.43 L517.91 332.46 L518.08 331.49 L518.26 330.52 L518.43 329.55 L518.6 328.58 L518.78 327.6 L518.95 326.63 L519.12 325.66 L519.29 324.69 L519.46 323.72 L519.63 322.75 L519.8 321.78 L519.97 320.8 L520.14 319.83 L520.31 318.86 L520.48 317.89 L520.65 316.92 L520.81 315.94 L520.98 314.97 L521.15 314 L521.32 313.03 L521.48 312.06 L521.65 311.08 L521.81 310.11 L521.98 309.14 L522.14 308.17 L522.31 307.2 L522.47 306.22 L522.64 305.25 L522.8 304.28 L522.97 303.31 L523.13 302.33 L523.29 301.36 L523.46 300.39 L523.62 299.42 L523.78 298.44 L523.95 297.47 L524.11 296.5 L524.27 295.53 L524.44 294.55 L524.6 293.58 L524.76 292.61 L524.93 291.64 L525.09 290.66 L525.25 289.69 L525.41 288.72 L525.58 287.75 L525.74 286.77 L525.9 285.8 L526.07 284.83 L526.23 283.86 L526.39 282.88 L526.56 281.91 L526.72 280.94 L526.88 279.97 L527.05 278.99 L527.21 278.02 L527.38 277.05 L527.54 276.08 L527.7 275.11 L527.87 274.13 L528.03 273.16 L528.2 272.19 L528.36 271.22 L528.53 270.25 L528.69 269.27 L528.86 268.3 L529.03 267.33 L529.19 266.36 L529.36 265.39 L529.53 264.41 L529.69 263.44 L529.86 262.47 L530.03 261.5 L530.19 260.53 L530.36 259.55 L530.53 258.58 L530.7 257.61 L530.87 256.64 L531.03 255.67 L531.2 254.7 L531.37 253.72 L531.54 252.75 L531.71 251.78 L531.88 250.81 L532.05 249.84 L532.22 248.87 L532.39 247.89 L532.56 246.92 L532.73 245.95 L532.9 244.98 L533.08 244.01 L533.25 243.04 L533.42 242.07 L533.59 241.09 L533.76 240.12 L533.94 239.15 L534.11 238.18 L534.28 237.21 L534.46 236.24 L534.63 235.27 L534.81 234.29 L534.98 233.32 L535.16 232.35 L535.33 231.38 L535.51 230.41 L535.68 229.44 L535.86 228.47 L536.03 227.49 L536.21 226.52 L536.39 225.55 L536.56 224.58 L536.74 223.61 L536.92 222.64 L537.1 221.67 L537.28 220.7 L537.46 219.72 L537.63 218.75 L537.81 217.78 L537.99 216.81 L538.17 215.84 L538.35 214.87 L538.54 213.9 L538.72 212.93 L538.9 211.95 L539.08 210.98 L539.26 210.01 L539.45 209.04 L539.63 208.07 L539.81 207.1 L539.99 206.13 L540.18 205.16 L540.36 204.19 L540.55 203.21 L540.73 202.24 L540.92 201.27 L541.11 200.31 L541.32 199.34 L541.55 198.39 L541.81 197.45 L542.1 196.53 L542.43 195.63 L542.81 194.74 L543.24 193.88 L543.73 193.05 L544.29 192.25 L544.92 191.48 L545.63 190.74 L546.41 190.04 L547.22 189.36 L548.02 188.67 L548.75 187.96 L549.38 187.2 L549.91 186.4 L550.35 185.56 L550.73 184.68 L551.06 183.76 L551.35 182.82 L551.62 181.84 L551.88 180.85 L552.13 179.84 L552.36 178.84 L552.58 177.83 L552.78 176.83 L552.99 175.85 L553.18 174.89 L553.37 173.94 L553.55 173.01 L553.73 172.08 L553.91 171.15 L554.08 170.23 L554.26 169.31 L554.43 168.39 L554.61 167.46 L554.79 166.53 L554.98 165.59 L555.16 164.63 L555.36 163.67 L555.56 162.68 L555.77 161.67 L556 160.65 L556.23 159.59 L556.47 158.52 L556.73 157.42 L557.02 156.33 L557.34 155.28 L557.7 154.3 L558.12 153.4 L558.61 152.63 L559.16 151.99 L559.8 151.54 L560.52 151.29 L561.26 151.31 L561.97 151.61 L562.64 152.13 L563.23 152.83 L563.72 153.65 L564.12 154.56 L564.46 155.53 L564.74 156.54 L565 157.56 L565.24 158.57 L565.47 159.59 L565.69 160.59 L565.9 161.59 L566.1 162.59 L566.29 163.58 L566.48 164.57 L566.65 165.55 L566.82 166.53 L566.98 167.51 L567.14 168.49 L567.29 169.46 L567.44 170.43 L567.58 171.4 L567.72 172.37 L567.86 173.34 L567.99 174.31 L568.12 175.28 L568.26 176.25 L568.39 177.22 L568.52 178.19 L568.65 179.16 L568.78 180.13 L568.91 181.11 L569.04 182.08 L569.17 183.05 L569.3 184.02 L569.42 185 L569.55 185.97 L569.68 186.94 L569.8 187.92 L569.93 188.89 L570.05 189.87 L570.18 190.84 L570.3 191.82 L570.42 192.79 L570.55 193.77 L570.67 194.75 L570.79 195.72 L570.92 196.7 L571.04 197.68 L571.16 198.65 L571.28 199.63 L571.41 200.61 L571.53 201.58 L571.65 202.56 L571.77 203.54 L571.9 204.52 L572.02 205.5 L572.14 206.48 L572.26 207.45 L572.38 208.43 L572.51 209.41 L572.63 210.39 L572.75 211.37 L572.88 212.35 L573 213.33 L573.12 214.31 L573.25 215.29 L573.37 216.27 L573.49 217.25 L573.62 218.23 L573.74 219.21 L573.87 220.19 L574 221.16 L574.12 222.14 L574.25 223.12 L574.38 224.1 L574.5 225.08 L574.63 226.06 L574.76 227.04 L574.89 228.02 L575.02 229 L575.15 229.98 L575.28 230.96 L575.42 231.94 L575.55 232.92 L575.68 233.9 L575.82 234.87 L575.95 235.85 L576.09 236.83 L576.23 237.81 L576.37 238.79 L576.51 239.77 L576.65 240.74 L576.79 241.72 L576.93 242.7 L577.07 243.68 L577.21 244.65 L577.36 245.63 L577.5 246.61 L577.65 247.58 L577.8 248.56 L577.95 249.54 L578.09 250.51 L578.24 251.49 L578.39 252.46 L578.54 253.44 L578.7 254.42 L578.85 255.39 L579 256.37 L579.15 257.34 L579.31 258.32 L579.46 259.29 L579.62 260.27 L579.77 261.24 L579.93 262.22 L580.09 263.19 L580.24 264.16 L580.4 265.14 L580.56 266.11 L580.72 267.09 L580.88 268.06 L581.04 269.04 L581.2 270.01 L581.36 270.98 L581.52 271.96 L581.68 272.93 L581.84 273.9 L582 274.88 L582.16 275.85 L582.32 276.82 L582.48 277.8 L582.65 278.77 L582.81 279.74 L582.97 280.72 L583.13 281.69 L583.29 282.66 L583.46 283.64 L583.62 284.61 L583.78 285.58 L583.95 286.56 L584.11 287.53 L584.27 288.5 L584.43 289.48 L584.6 290.45 L584.76 291.42 L584.92 292.39 L585.08 293.37 L585.25 294.34 L585.41 295.31 L585.57 296.29 L585.73 297.26 L585.89 298.23 L586.05 299.21 L586.21 300.18 L586.37 301.15 L586.54 302.12 L586.7 303.1 L586.85 304.07 L587.01 305.04 L587.17 306.02 L587.33 306.99 L587.49 307.96 L587.65 308.94 L587.8 309.91 L587.96 310.88 L588.12 311.86 L588.27 312.83 L588.43 313.81 L588.58 314.78 L588.74 315.75 L588.89 316.73 L589.04 317.7 L589.2 318.68 L589.35 319.65 L589.5 320.62 L589.65 321.6 L589.8 322.57 L589.95 323.55 L590.09 324.52 L590.24 325.5 L590.39 326.47 L590.53 327.45 L590.68 328.42 L590.82 329.4 L590.96 330.37 L591.11 331.35 L591.25 332.32 L591.39 333.3 L591.53 334.28 L591.67 335.25 L591.8 336.23 L591.94 337.2 L592.08 338.18 L592.21 339.16 L592.35 340.13 L592.48 341.11 L592.62 342.09 L592.75 343.06 L592.88 344.04 L593.02 345.02 L593.15 345.99 L593.28 346.97 L593.42 347.95 L593.55 348.92 L593.69 349.9 L593.82 350.88 L593.95 351.85 L594.09 352.83 L594.22 353.81 L594.36 354.78 L594.5 355.76 L594.63 356.74 L594.77 357.71 L594.91 358.69 L595.05 359.66 L595.19 360.64 L595.33 361.61 L595.47 362.59 L595.61 363.57 L595.76 364.54 L595.91 365.52 L596.05 366.49 L596.2 367.46 L596.35 368.44 L596.5 369.41 L596.66 370.39 L596.81 371.36 L596.97 372.33 L597.13 373.31 L597.29 374.28 L597.45 375.25 L597.61 376.22 L597.78 377.2 L597.95 378.17 L598.12 379.14 L598.29 380.11 L598.47 381.08 L598.65 382.05 L598.83 383.02 L599.01 383.99 L599.2 384.96 L599.38 385.93 L599.58 386.9 L599.77 387.86 L599.97 388.83 L600.17 389.8 L600.37 390.76 L600.58 391.73 L600.79 392.7 L601 393.66 L601.21 394.63 L601.43 395.59 L601.66 396.55 L601.88 397.52 L602.11 398.48 L602.35 399.44 L602.59 400.4 L602.83 401.36 L603.07 402.32 L603.32 403.28 L603.57 404.24 L603.83 405.2 L604.09 406.16 L604.36 407.12 L604.63 408.07 L604.9 409.03 L605.18 409.98 L605.47 410.94 L605.75 411.89 L606.05 412.85 L606.34 413.8 L606.65 414.75 L606.95 415.7 L607.26 416.65 L607.58 417.6 L607.91 418.55 L608.24 419.49 L608.58 420.42 L608.94 421.35 L609.31 422.27 L609.7 423.17 L610.1 424.06 L610.53 424.93 L610.98 425.78 L611.45 426.62 L611.94 427.43 L612.47 428.21 L613.02 428.97 L613.61 429.7 L614.22 430.41 L614.88 431.07 L615.57 431.71 L616.3 432.31 L617.06 432.87 L617.88 433.39 L618.73 433.87 L619.63 434.31 L620.58 434.7 L621.57 435.05 L622.59 435.35 L623.63 435.63 L624.69 435.86 L625.76 436.07 L626.82 436.25 L627.88 436.4 L628.93 436.53 L629.95 436.64 L630.94 436.73 L631.88 436.81 L632.79 436.88 L633.63 436.95 L634.42 437" fill="none" stroke="#000" stroke-width="2.3" stroke-linecap="round" stroke-linejoin="round"/>
</svg>
</body></html>
